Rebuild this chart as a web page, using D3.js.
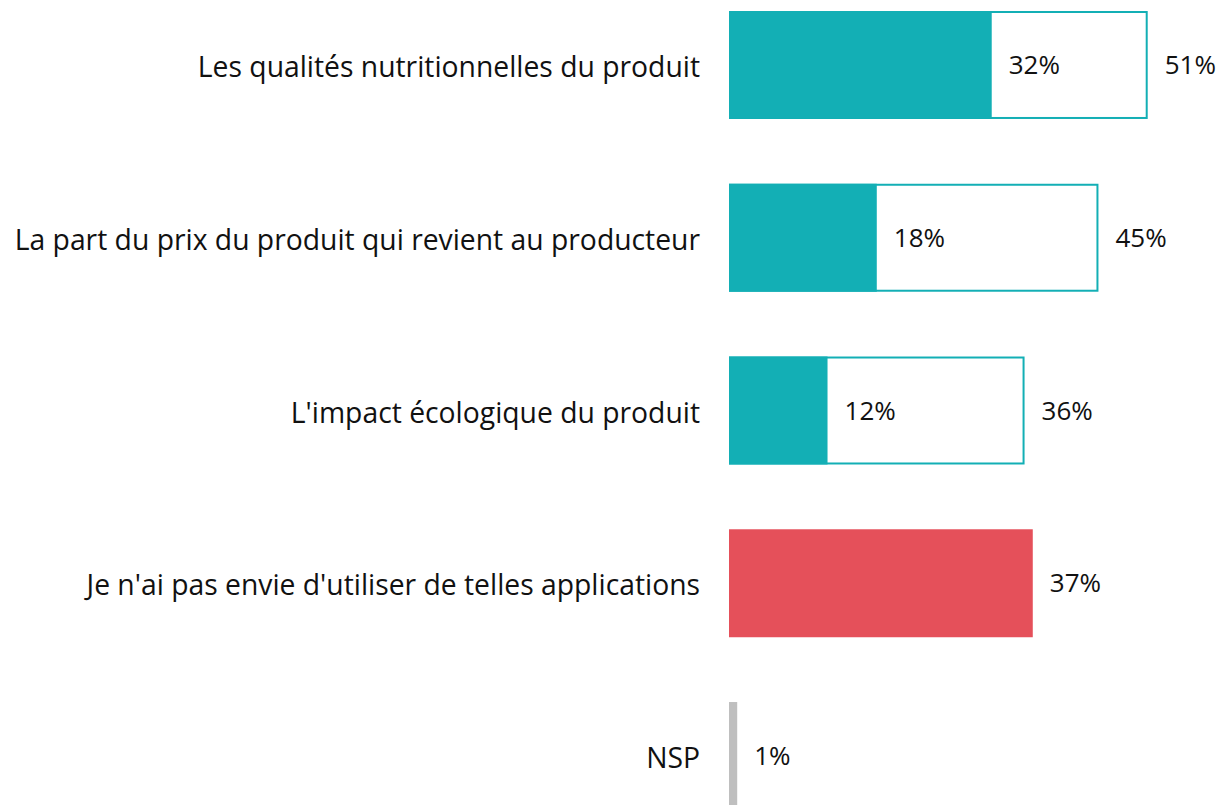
<!DOCTYPE html>
<html>
<head>
<meta charset="utf-8">
<script src="https://cdn.jsdelivr.net/npm/d3@7"></script>
<style>
  html, body { margin: 0; padding: 0; background: #fff; }
  svg { display: block; font-family: "Open Sans", sans-serif; }
</style>
</head>
<body>
<svg id="chart" width="1222" height="805"></svg>
<script>
var categories = [
  "Les qualités nutritionnelles du produit",
  "La part du prix du produit qui revient au producteur",
  "L'impact écologique du produit",
  "Je n'ai pas envie d'utiliser de telles applications",
  "NSP"
];
// first choice (filled part) and total cited (outline), null when no split
var firstValues = [32, 18, 12, null, null];
var totalValues = [51, 45, 36, 37, 1];
var barColors = ["#13afb5", "#13afb5", "#13afb5", "#e5505a", "#bfbfbf"];

var svg = d3.select("#chart"),
  WIDTH = 1222,
  HEIGHT = 805,
  LEFT = 729;

var rows = categories.map(function(c, i) {
  return { cat: c, first: firstValues[i], total: totalValues[i], color: barColors[i] };
});

var x = d3.scaleLinear().domain([0, 100]).range([LEFT, LEFT + 821]);
var y = d3.scaleBand().domain(categories).range([11, 810]).paddingInner(0.375).paddingOuter(0);

var g = svg.selectAll("g.row").data(rows).enter().append("g").attr("class", "row");

// outline for total (only split rows)
g.filter(function(d) { return d.first != null; })
  .append("rect")
  .attr("x", x(0) + 1)
  .attr("y", function(d) { return y(d.cat) + 1; })
  .attr("width", function(d) { return x(d.total) - x(0) - 2; })
  .attr("height", y.bandwidth() - 2)
  .attr("fill", "#fff")
  .attr("stroke", function(d) { return d.color; })
  .attr("stroke-width", 2);

// filled bars
g.append("rect")
  .attr("x", x(0))
  .attr("y", function(d) { return y(d.cat); })
  .attr("width", function(d) { return x(d.first != null ? d.first : d.total) - x(0); })
  .attr("height", y.bandwidth())
  .attr("fill", function(d) { return d.color; });

// category labels
g.append("text")
  .attr("x", 700)
  .attr("y", function(d) { return y(d.cat) + y.bandwidth() / 2 + 12; })
  .attr("text-anchor", "end")
  .attr("font-size", 28.3)
  .attr("fill", "#111")
  .text(function(d) { return d.cat; });

// inner value labels
g.filter(function(d) { return d.first != null; })
  .append("text")
  .attr("x", function(d) { return x(d.first) + 17; })
  .attr("y", function(d) { return y(d.cat) + y.bandwidth() / 2 + 9; })
  .attr("font-size", 26)
  .attr("fill", "#111")
  .text(function(d) { return d.first + "%"; });

// total value labels
g.append("text")
  .attr("x", function(d) { return x(d.total) + 17; })
  .attr("y", function(d) { return y(d.cat) + y.bandwidth() / 2 + 9; })
  .attr("font-size", 26)
  .attr("fill", "#111")
  .text(function(d) { return d.total + "%"; });
</script>
</body>
</html>
